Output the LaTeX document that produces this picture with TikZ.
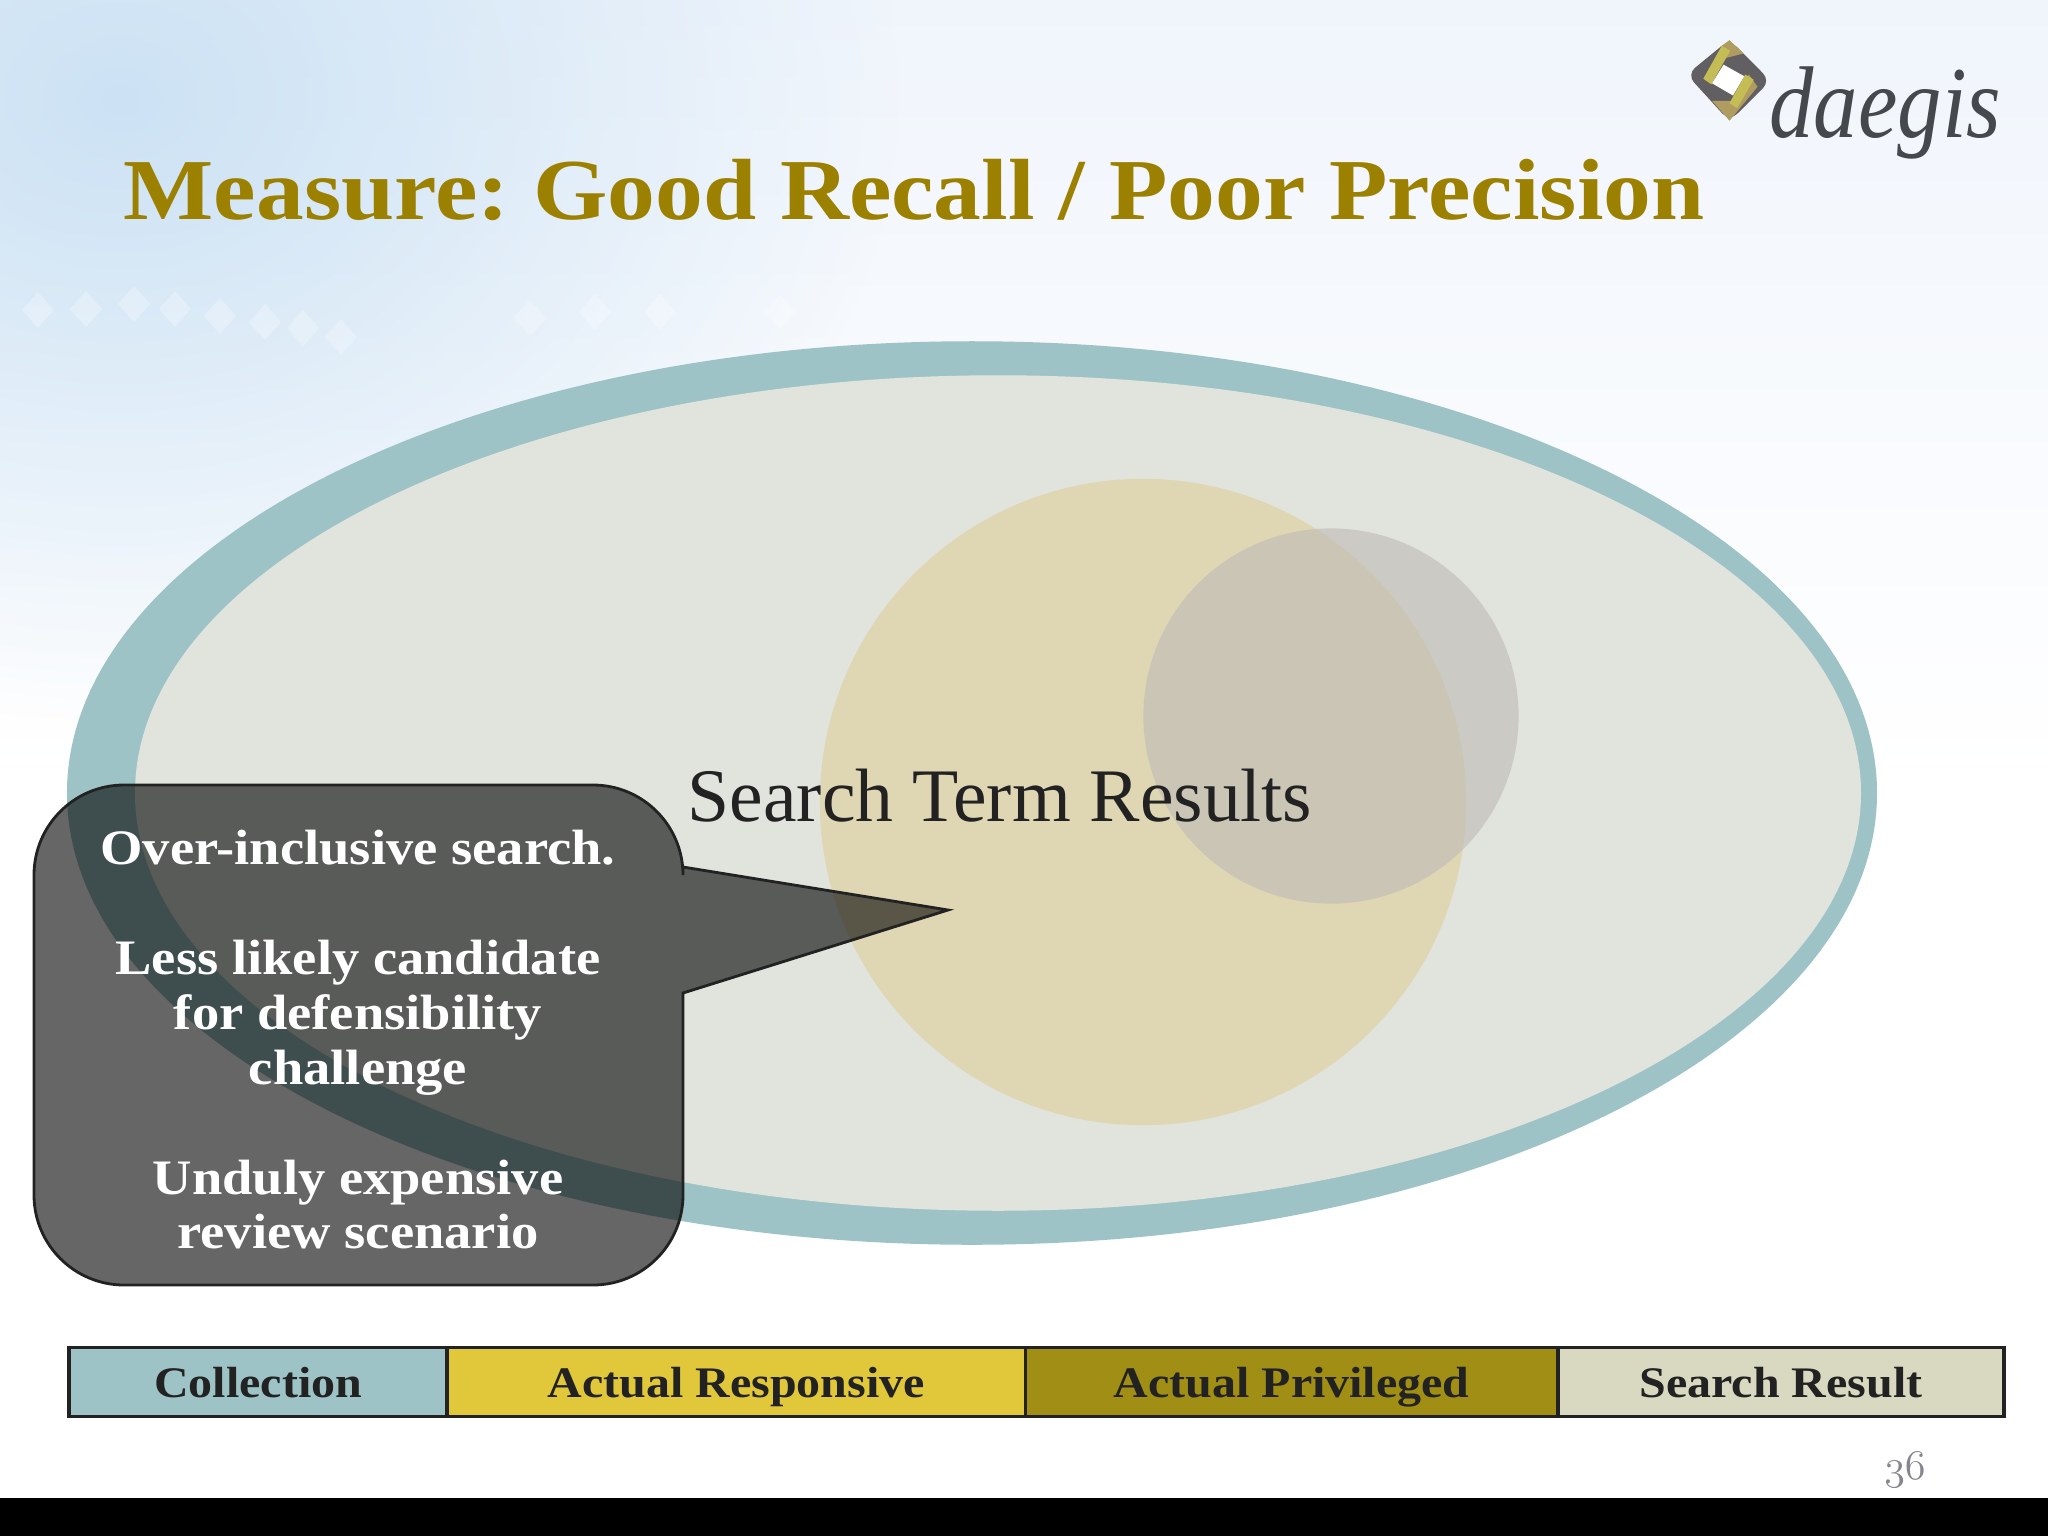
\documentclass[tikz,border=0pt]{standalone}
\usepackage{fontspec}
\setmainfont{Liberation Serif}
\newfontfamily\slidefont[FakeStretch=1.1]{Liberation Serif}
\usetikzlibrary{positioning, fadings, shapes.geometric}
\definecolor{ringteal}{HTML}{9DC3C7}
\definecolor{respyellow}{HTML}{E0C83A}
\definecolor{privolive}{HTML}{A08F14}
\definecolor{resultgrey}{HTML}{D9D9C1}
\definecolor{titlegold}{HTML}{9C8000}
\definecolor{inkdark}{HTML}{222222}
\definecolor{resultface}{HTML}{E0E4DC}
\definecolor{respface}{HTML}{DFD6B3}
\definecolor{privface}{HTML}{C0BBB7}
\definecolor{logogrey}{HTML}{625F63}
\definecolor{logotan}{HTML}{B09C60}
\definecolor{logoyellow}{HTML}{C4BD55}
\definecolor{logoink}{HTML}{45484D}
\definecolor{pagegrey}{HTML}{85858D}
\definecolor{skytop}{HTML}{F0F5FC}
\definecolor{skyglow}{HTML}{CCE2F4}
\tikzfading[name=glow, inner color=transparent!0, outer color=transparent!100]
\tikzset{setshape/.style={ellipse, inner sep=0, outer sep=0}}
\tikzset{legendcell/.style={draw=inkdark, line width=1pt, inner sep=0, outer sep=0, minimum height=0.69cm, text height=8.6pt, text depth=0pt, text=inkdark, font=\slidefont\bfseries\fontsize{12.4}{15}\selectfont}}
\tikzset{logoface/.style={line join=round, draw=none}}

\begin{document}
\frenchspacing
\begin{tikzpicture}[x=0.01cm, y=-0.01cm, node distance=0]
			\useasboundingbox (0,0) rectangle (2048,1536);
			% backdrop
			\shade[top color=skytop, bottom color=white] (0,0) rectangle (2048,780);
			\fill[skyglow, path fading=glow] (120,100) ellipse (780 and 620);
			\foreach \dotx/\doty in {38/310, 86/309, 134/304, 175/309, 220/316, 265/322, 303/328, 341/337, 530/318, 595/312, 660/312, 780/312}
				\fill[white, opacity=0.25] (\dotx,\doty-18) -- (\dotx+16,\doty) -- (\dotx,\doty+18) -- (\dotx-16,\doty) -- cycle;
			\fill[black] (0,1498) rectangle (2048,1536);
			%
			\node[setshape, fill=ringteal, minimum width=18.09cm, minimum height=9.03cm] (collection) at (972,793) {};
			\node[setshape, fill=resultface, minimum width=17.25cm, minimum height=8.35cm] (result) at (998,793) {};
			\node[circle, inner sep=0, outer sep=0, fill=respface, minimum size=6.46cm] (responsive) at (1143,802) {};
			\node[circle, inner sep=0, outer sep=0, fill=privface, fill opacity=0.62, minimum size=3.75cm] (privileged) at (1331,716) {};
			\node[text=inkdark, font=\fontsize{21.5}{25}\selectfont] (searchterm) at (1000,796) {Search Term Results};
			%
			\node[anchor=base west, text=titlegold, font=\slidefont\bfseries\fontsize{24.7}{28}\selectfont, inner sep=0] (title) at (123,219) {Measure: Good Recall / Poor Precision};
			% logo
			\begin{scope}[shift={(1677,29)}, scale=0.35]
				\fill[logoface, fill=logogrey, rounded corners=3pt] (150,30) -- (267,148) -- (150,264) -- (28,130) -- cycle;
				\fill[logoface, fill=logotan] (150,32) -- (190,70) -- (130,85) -- (125,50) -- cycle;
				\fill[logoface, fill=logotan] (205,130) -- (230,165) -- (150,262) -- (100,205) -- (160,205) -- cycle;
				\fill[logoface, fill=logoyellow] (128,48) -- (152,62) -- (98,158) -- (75,142) -- cycle;
				\fill[logoface, fill=logoyellow] (195,130) -- (219,145) -- (172,226) -- (150,212) -- cycle;
				\fill[logoface, fill=white] (133,102) -- (192,135) -- (160,190) -- (100,155) -- cycle;
			\end{scope}
			\node[anchor=base west, inner sep=0, xscale=0.87, text=logoink, font=\fontsize{29}{30}\selectfont\itshape] (logotext) at (1769,137) {daegis};
			% callout
			\coordinate (tipup) at (683,867);
			\coordinate (tip) at (948,910);
			\coordinate (tipdown) at (683,993);
			\draw[draw=inkdark, line width=0.8pt, fill=black, fill opacity=0.6] (tipup) [rounded corners=0.9cm] -- (683,785) -- (34,785) -- (34,1285) -- (683,1285) [sharp corners] -- (tipdown) -- (tip) -- cycle;
			\node[align=center, text=white, inner sep=0, font=\slidefont\bfseries\fontsize{14.1}{15.6}\selectfont] (calltext) at (358,1040) {Over-inclusive search.\\[15.6pt]Less likely candidate\\for defensibility\\challenge\\[15.6pt]Unduly expensive\\review scenario};
			% legend
			\node[legendcell, fill=ringteal, minimum width=3.78cm, anchor=west] (legcoll) at (69,1382) {Collection};
			\node[legendcell, fill=respyellow, minimum width=5.78cm, right=of legcoll] (legresp) {Actual Responsive};
			\node[legendcell, fill=privolive, minimum width=5.32cm, right=of legresp] (legpriv) {Actual Privileged};
			\node[legendcell, fill=resultgrey, minimum width=4.46cm, right=of legpriv] (legres) {Search Result};
			%
			\node[text=pagegrey, inner sep=0, font=\fontsize{12}{14}\selectfont] (pagenum) at (1905,1470) {\usefont{OML}{cmm}{m}{it}36};
		\end{tikzpicture}
\end{document}
